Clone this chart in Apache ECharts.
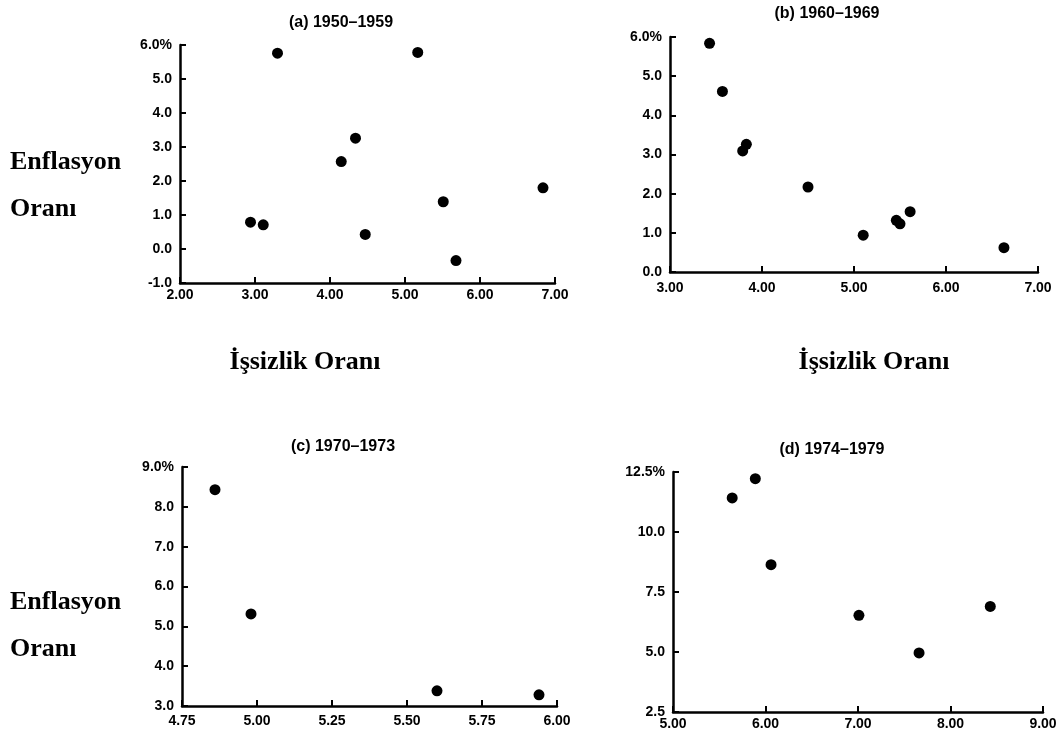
<!DOCTYPE html>
<html>
<head>
<meta charset="utf-8">
<title>Enflasyon ve İşsizlik</title>
<script src="https://cdn.jsdelivr.net/npm/echarts@6/dist/echarts.min.js"></script>
<style>
  html, body { margin: 0; padding: 0; background: #fff; }
  #chart { width: 1060px; height: 738px; }
</style>
</head>
<body>
<div id="chart"></div>
<script>
// Panel titles
const panelTitles = ['(a) 1950–1959', '(b) 1960–1969', '(c) 1970–1973', '(d) 1974–1979'];

// Unemployment rate (x) and inflation rate (y), per period
const unemployment5059 = [2.94, 3.11, 3.30, 4.15, 4.34, 4.47, 5.17, 5.51, 5.68, 6.84];
const inflation5059    = [0.79, 0.71, 5.76, 2.57, 3.26, 0.43, 5.78, 1.39, -0.34, 1.80];

const unemployment6069 = [3.43, 3.57, 3.79, 3.83, 4.50, 5.10, 5.46, 5.50, 5.61, 6.63];
const inflation6069    = [5.84, 4.61, 3.09, 3.26, 2.17, 0.94, 1.32, 1.23, 1.54, 0.62];

const unemployment7073 = [4.86, 4.98, 5.60, 5.94];
const inflation7073    = [8.43, 5.31, 3.38, 3.28];

const unemployment7479 = [5.64, 5.89, 6.06, 7.01, 7.66, 8.43];
const inflation7479    = [11.42, 12.22, 8.64, 6.53, 4.96, 6.90];

// Axis ranges: [min, max, interval]
const xRanges = [[2, 7, 1], [3, 7, 1], [4.75, 6, 0.25], [5, 9, 1]];
const yRanges = [[-1, 6, 1], [0, 6, 1], [3, 9, 1], [2.5, 12.5, 2.5]];

// Side labels
const yAxisName = ['Enflasyon', 'Oranı'];
const xAxisName = 'İşsizlik Oranı';

const panels = [
  [unemployment5059, inflation5059],
  [unemployment6069, inflation6069],
  [unemployment7073, inflation7073],
  [unemployment7479, inflation7479]
];

const grids = [
  { left: 180, top: 45, width: 375, height: 238 },
  { left: 670, top: 37, width: 368, height: 235 },
  { left: 182, top: 467, width: 375, height: 239 },
  { left: 673, top: 472, width: 370, height: 240 }
];
const xLabelMargins = [5, 9, 8, 5];
const titlePos = [[341, 23], [827, 14], [343, 447], [832, 450]];

const labelFont = { color: '#000', fontWeight: 'bold', fontSize: 14, fontFamily: 'Liberation Sans, Arial, sans-serif' };

const chart = echarts.init(document.getElementById('chart'), null, { renderer: 'canvas' });

const xAxes = xRanges.map((r, i) => ({
  type: 'value', gridIndex: i, min: r[0], max: r[1], interval: r[2],
  axisLine: { show: true, onZero: false, lineStyle: { color: '#000', width: 2.5 } },
  axisTick: { show: true, inside: true, length: 6, lineStyle: { color: '#000', width: 2 } },
  splitLine: { show: false },
  axisLabel: Object.assign({ margin: xLabelMargins[i], formatter: v => v.toFixed(2) }, labelFont)
}));

const yAxes = yRanges.map((r, i) => ({
  type: 'value', gridIndex: i, min: r[0], max: r[1], interval: r[2],
  axisLine: { show: true, onZero: false, lineStyle: { color: '#000', width: 2.5 } },
  axisTick: { show: true, inside: true, length: 6, lineStyle: { color: '#000', width: 2 } },
  splitLine: { show: false },
  axisLabel: Object.assign({
    margin: 8,
    formatter: v => (Math.abs(v - r[1]) < 1e-9 ? v.toFixed(1) + '%' : v.toFixed(1))
  }, labelFont)
}));

const series = panels.map((p, i) => ({
  type: 'scatter', xAxisIndex: i, yAxisIndex: i,
  symbol: 'circle', symbolSize: 11,
  itemStyle: { color: '#000', opacity: 1 },
  data: p[0].map((x, k) => [x, p[1][k]])
}));

const serif = 'Liberation Serif, Times New Roman, serif';
const graphics = [];
panelTitles.forEach((t, i) => {
  graphics.push({
    type: 'text', x: titlePos[i][0], y: titlePos[i][1],
    style: { text: t, fill: '#000', font: 'bold 16px Liberation Sans, Arial, sans-serif', textAlign: 'center', textVerticalAlign: 'middle' }
  });
});
[149, 589].forEach(base => {
  graphics.push({ type: 'text', x: 10, y: base, style: { text: yAxisName[0], fill: '#000', font: 'bold 26px ' + serif, textAlign: 'left', textVerticalAlign: 'alphabetic' } });
  graphics.push({ type: 'text', x: 10, y: base + 47, style: { text: yAxisName[1], fill: '#000', font: 'bold 26px ' + serif, textAlign: 'left', textVerticalAlign: 'alphabetic' } });
});
[305, 874].forEach(cx => {
  graphics.push({ type: 'text', x: cx, y: 349, style: { text: xAxisName, fill: '#000', font: 'bold 26px ' + serif, textAlign: 'center', textVerticalAlign: 'alphabetic' } });
});

chart.setOption({
  backgroundColor: '#fff',
  animation: false,
  grid: grids,
  xAxis: xAxes,
  yAxis: yAxes,
  series: series,
  graphic: graphics
});
</script>
</body>
</html>
